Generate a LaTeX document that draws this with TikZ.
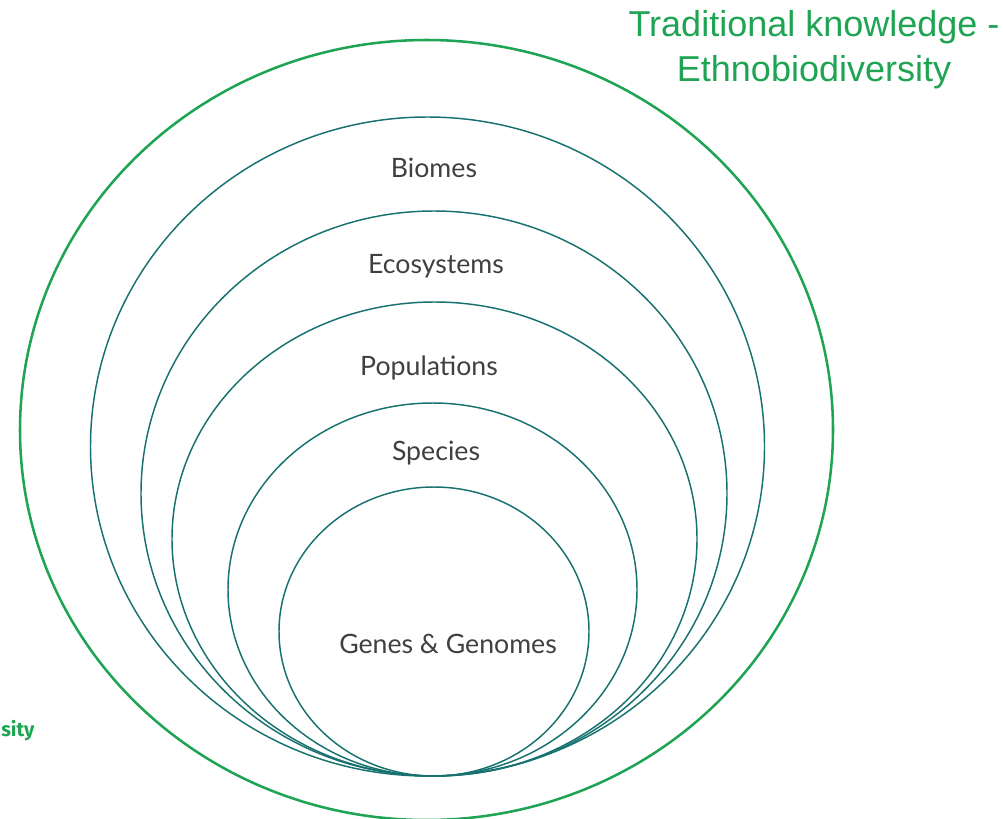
\documentclass[tikz,border=0pt]{standalone}
\usepackage{fontspec}
\newfontfamily\labelfont{Lato}
\newfontfamily\titlefont{Liberation Sans}
\newfontfamily\cutfont{Fira Sans}
\definecolor{ringgreen}{HTML}{1FA454}
\definecolor{ringteal}{HTML}{17716F}
\definecolor{labelgray}{HTML}{404040}

\begin{document}
\begin{tikzpicture}[x=0.75pt, y=-0.75pt,
    outer ring/.style={draw=ringgreen, line width=1.9pt},
    ring/.style={draw=ringteal, line width=1.1pt},
    level label/.style={font=\labelfont\fontsize{20}{24}\selectfont, text=labelgray},
    title/.style={font=\titlefont\fontsize{27}{34}\selectfont, text=ringgreen, align=center}
]
\useasboundingbox (0,0) rectangle (1003,818);

% rings, all touching at the bottom
\draw[outer ring] (426.5,430) ellipse [x radius=406.5, y radius=390];
\draw[ring] (427.5,446.5) ellipse [x radius=337, y radius=329.5];
\draw[ring] (434,493.5) ellipse [x radius=293, y radius=282.5];
\draw[ring] (434.5,539) ellipse [x radius=262.5, y radius=237];
\draw[ring] (432.5,589.5) ellipse [x radius=204.5, y radius=186.5];
\draw[ring] (434,631.5) ellipse [x radius=155, y radius=144.5];

% labels
\node[level label] (biomes) at (434,168) {Biomes};
\node[level label] (ecosystems) at (436,266) {Ecosystems};
\node[level label] (populations) at (429,368) {Populations};
\node[level label] (species) at (436,453) {Species};
\node[level label] (genes) at (448,644) {Genes \& Genomes};

\node[title] (tradition) at (814,50) {Traditional knowledge -\\Ethnobiodiversity};
\node[anchor=base west, inner sep=0pt, font=\cutfont\bfseries\fontsize{15}{18}\selectfont, text=ringgreen]
    (cut) at (1,736) {sity};
\end{tikzpicture}
\end{document}
